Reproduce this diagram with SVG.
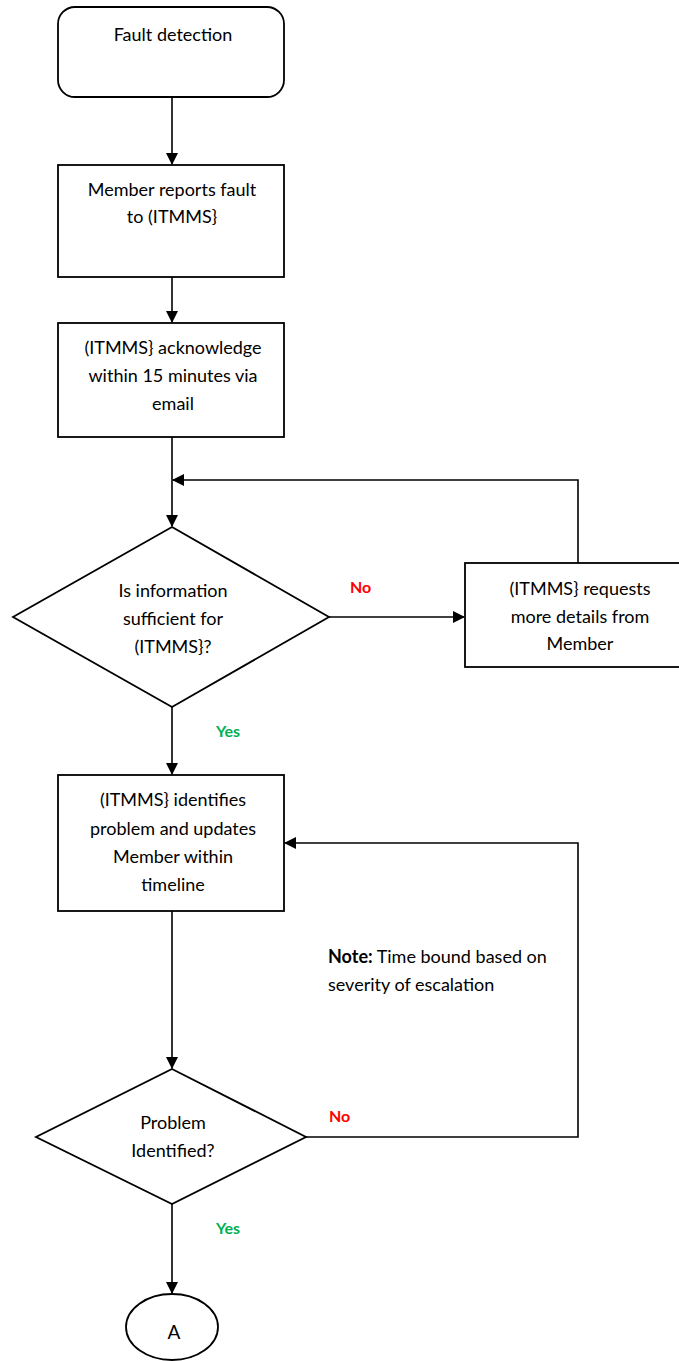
<svg xmlns="http://www.w3.org/2000/svg" width="679" height="1361" viewBox="0 0 679 1361">
<style>
.s{fill:#fff;stroke:#000;stroke-width:1.8}
.c{fill:none;stroke:#000;stroke-width:1.6}
.t{font-family:Lato,"Liberation Sans",sans-serif;font-size:18px;fill:#000;text-anchor:middle}
.n{font-family:Lato,"Liberation Sans",sans-serif;font-size:18px;fill:#000}
.no{font-family:Lato,"Liberation Sans",sans-serif;font-size:16px;font-weight:bold;fill:#ff0000}
.yes{font-family:Lato,"Liberation Sans",sans-serif;font-size:16px;font-weight:bold;fill:#00b050}
</style>
<defs>
<marker id="a" markerWidth="12" markerHeight="12" refX="11" refY="6" orient="auto" markerUnits="userSpaceOnUse">
<path d="M0,0 L12,6 L0,12 Z" fill="#000"/>
</marker>
</defs>
<g id="connectors">
<line class="c" x1="172" y1="97" x2="172" y2="164" marker-end="url(#a)"/>
<line class="c" x1="172" y1="277" x2="172" y2="322" marker-end="url(#a)"/>
<line class="c" x1="172" y1="437" x2="172" y2="526" marker-end="url(#a)"/>
<polyline class="c" points="578,563 578,480 173,480" marker-end="url(#a)"/>
<line class="c" x1="329" y1="617" x2="464" y2="617" marker-end="url(#a)"/>
<line class="c" x1="172" y1="707" x2="172" y2="774" marker-end="url(#a)"/>
<line class="c" x1="172" y1="911" x2="172" y2="1068" marker-end="url(#a)"/>
<polyline class="c" points="306,1137 578,1137 578,843 285,843" marker-end="url(#a)"/>
<line class="c" x1="172" y1="1204" x2="172" y2="1293" marker-end="url(#a)"/>
<text class="no" x="350" y="593">No</text>
<text class="yes" x="216" y="737">Yes</text>
<text class="no" x="329" y="1122">No</text>
<text class="yes" x="216" y="1234">Yes</text>
</g>
<g id="start">
<rect class="s" x="58" y="7" width="226" height="90" rx="17"/>
<text class="t" x="173" y="41">Fault detection</text>
</g>
<g id="report">
<rect class="s" x="58" y="165" width="226" height="112"/>
<text class="t" x="172" y="196">Member reports fault</text>
<text class="t" x="172" y="223">to (ITMMS}</text>
</g>
<g id="ack">
<rect class="s" x="58" y="323" width="226" height="114"/>
<text class="t" x="173" y="354">(ITMMS} acknowledge</text>
<text class="t" x="173" y="382">within 15 minutes via</text>
<text class="t" x="173" y="410">email</text>
</g>
<g id="decision1">
<polygon class="s" points="172,527 329,617 172,707 13,617"/>
<text class="t" x="173" y="597">Is information</text>
<text class="t" x="173" y="625">sufficient for</text>
<text class="t" x="173" y="653">(ITMMS}?</text>
</g>
<g id="request">
<rect class="s" x="465" y="563" width="218" height="104"/>
<text class="t" x="580" y="595">(ITMMS} requests</text>
<text class="t" x="580" y="623">more details from</text>
<text class="t" x="580" y="650">Member</text>
</g>
<g id="identify">
<rect class="s" x="58" y="775" width="226" height="136"/>
<text class="t" x="173" y="806">(ITMMS} identifies</text>
<text class="t" x="173" y="835">problem and updates</text>
<text class="t" x="173" y="863">Member within</text>
<text class="t" x="173" y="891">timeline</text>
</g>
<g id="note">
<text class="n" x="328" y="963"><tspan font-weight="bold">Note:</tspan> Time bound based on</text>
<text class="n" x="328" y="991">severity of escalation</text>
</g>
<g id="decision2">
<polygon class="s" points="172,1069 306,1137 172,1204 36,1137"/>
<text class="t" x="173" y="1129">Problem</text>
<text class="t" x="173" y="1157">Identified?</text>
</g>
<g id="connectorA">
<ellipse class="s" cx="172" cy="1327" rx="46" ry="33"/>
<text class="t" x="174" y="1339" style="font-size:19px">A</text>
</g>
</svg>
